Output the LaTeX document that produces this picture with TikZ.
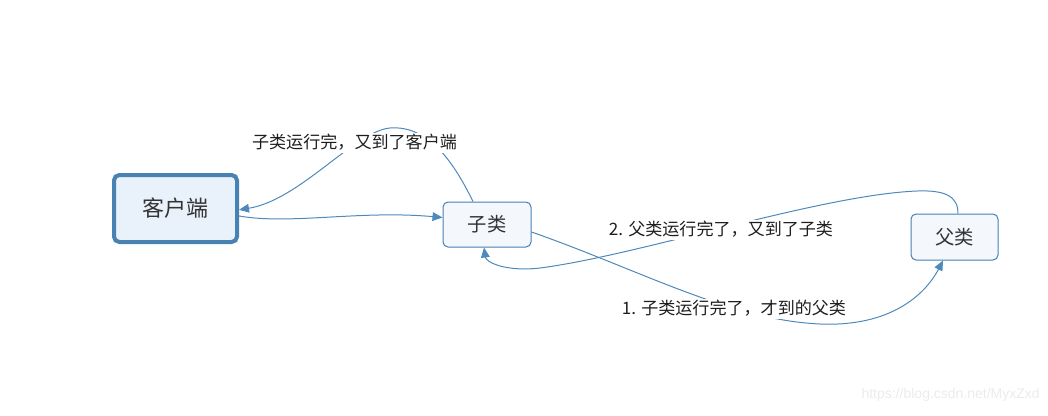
\documentclass[tikz,border=0pt]{standalone}
\usepackage{fontspec}
\setmainfont{Noto Sans CJK SC}
\newfontfamily\wmfont{Liberation Sans}
\usetikzlibrary{arrows.meta}
\definecolor{linec}{HTML}{4E89BB}
\definecolor{boxc}{HTML}{4580B3}
\definecolor{boxf}{HTML}{F4F8FD}
\definecolor{mainc}{HTML}{4882B3}
\definecolor{mainf}{HTML}{E9F2FB}
\definecolor{textc}{HTML}{333333}
\definecolor{lblc}{HTML}{1E1E1E}
\definecolor{wmc}{HTML}{EBEBEB}
\begin{document}
\begin{tikzpicture}[x=0.75pt,y=-0.75pt,
  box/.style={draw=boxc, fill=boxf, rounded corners=3.75pt, line width=0.75pt, text=textc,
    font=\fontsize{14.5}{17}\selectfont, inner sep=0pt},
  mainbox/.style={box, draw=mainc, fill=mainf, line width=3pt, rounded corners=4pt,
    font=\fontsize{16.5}{19}\selectfont},
  conn/.style={draw=linec, line width=0.75pt, -{Triangle[length=7.5pt,width=6.5pt]}},
  lbl/.style={fill=white, inner xsep=1pt, inner ysep=0.8pt, text height=10.2pt, text depth=2.6pt,
    font=\fontsize{12.8}{15}\selectfont, text=lblc}]
\useasboundingbox (0,0) rectangle (1048,415);

% nodes
\node[mainbox, minimum width=92.25pt, minimum height=50.25pt] (ke) at (175.5,208.5) {客户端};
\node[box, minimum width=66pt, minimum height=33.75pt] (zi) at (487,224.5) {子类};
\node[box, minimum width=65.25pt, minimum height=34.5pt] (fu) at (954.5,237) {父类};

% connectors
\draw[conn] ([yshift=-5.6pt]ke.east) .. controls (290,225) and (360,210) .. ([yshift=5.25pt]zi.west);
\draw[conn] ([xshift=-10.5pt]zi.north) .. controls (455,165) and (430,125) .. (390,128)
  .. controls (355,131) and (300,200) .. ([yshift=-1pt]ke.east);
\draw[conn] ([yshift=-5.6pt]zi.east) .. controls (640,270) and (730,320) .. (820,324)
  .. controls (890,327) and (925,295) .. ([xshift=-8.6pt]fu.south);
\draw[conn] ([xshift=2.6pt]fu.north) .. controls (958,196) and (945,190) .. (917,191)
  .. controls (820,195) and (640,255) .. (540,268)
  .. controls (505,272) and (486,262) .. ([xshift=-2.25pt]zi.south);

% labels
\node[lbl] (l1) at (354.5,143) {子类运行完，又到了客户端};
\node[lbl] (l2) at (721,230) {2. 父类运行完了，又到了子类};
\node[lbl] (l3) at (734,309) {1. 子类运行完了，才到的父类};

% watermark
\node[text=wmc, font=\wmfont\fontsize{10.5}{12}\selectfont, inner sep=0pt, anchor=east] (wm) at (1040,395) {https://blog.csdn.net/MyxZxd};
\end{tikzpicture}
\end{document}
